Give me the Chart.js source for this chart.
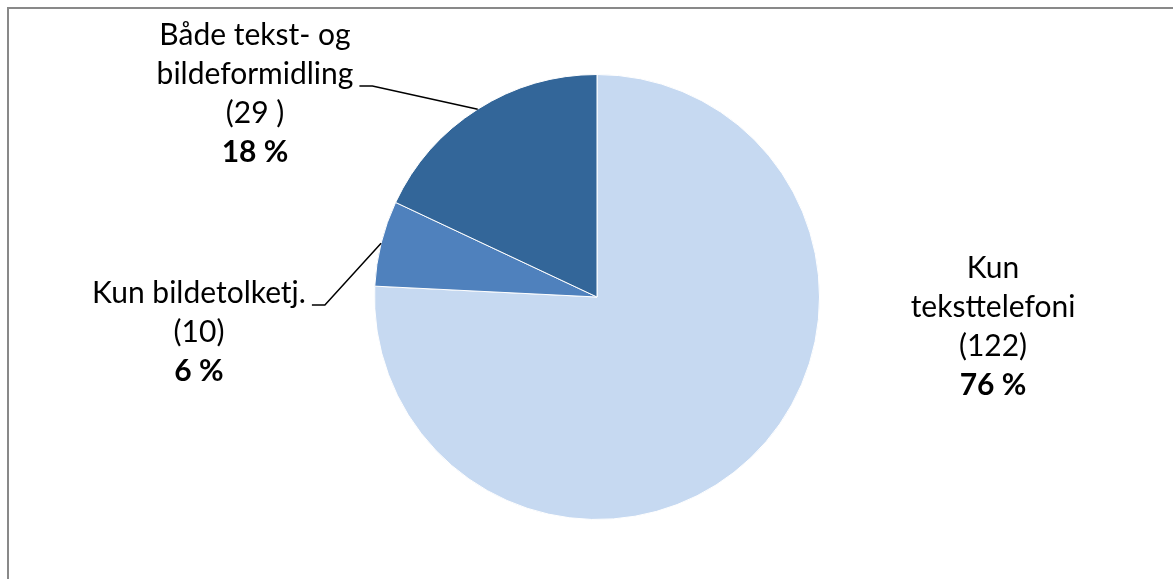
<!DOCTYPE html>
<html>
<head>
<meta charset="utf-8">
<script src="https://cdn.jsdelivr.net/npm/chart.js@4/dist/chart.umd.min.js"></script>
<style>
  html, body { margin: 0; padding: 0; background: #fff; }
  #wrap { width: 1173px; height: 579px; }
</style>
</head>
<body>
<div id="wrap"><canvas id="kakeChart" width="1173" height="579"></canvas></div>
<script>
// Kategorier (linjer i etiketten) og antall
const kategorier = [
  ['Kun', 'teksttelefoni'],
  ['Kun bildetolketj.'],
  ['Både tekst- og', 'bildeformidling']
];
const antall = [122, 10, 29];
const antallTekst = ['(122)', '(10)', '(29 )'];
const farger = ['#C6D9F1', '#4F81BD', '#336699'];

// plassering av etikettene, relativt til sentrum av kaka
const etikettPlass = [
  { dx: 396, dy: -29, leder: false },
  { dx: -398, dy: -4, leder: true },
  { dx: -342, dy: -262, leder: true }
];

const FONT = 'Lato, "Liberation Sans", sans-serif';
const STR = 30;
const LINJE = 39;

const rammePlugin = {
  id: 'ramme',
  beforeDraw(chart) {
    const c = chart.ctx;
    c.save();
    c.fillStyle = '#fff';
    c.fillRect(0, 0, chart.width, chart.height);
    c.strokeStyle = '#898989';
    c.lineWidth = 2;
    c.beginPath();
    c.moveTo(8, chart.height + 5);
    c.lineTo(8, 8);
    c.lineTo(chart.width + 5, 8);
    c.stroke();
    c.restore();
  }
};

const etikettPlugin = {
  id: 'etiketter',
  afterDraw(chart) {
    const c = chart.ctx;
    const meta = chart.getDatasetMeta(0);
    const total = antall.reduce((a, b) => a + b, 0);
    c.save();
    c.fillStyle = '#000';
    c.textAlign = 'center';
    c.textBaseline = 'middle';
    meta.data.forEach((arc, i) => {
      const p = arc.getProps(['x', 'y', 'startAngle', 'endAngle', 'outerRadius'], true);
      const sted = etikettPlass[i];
      const bx = p.x + sted.dx;
      let by = p.y + sted.dy;
      const linjer = kategorier[i].concat([antallTekst[i]]);
      c.font = STR + 'px ' + FONT;
      const forsteBredde = c.measureText(kategorier[i][kategorier[i].length - 1]).width;
      linjer.forEach((t, k) => {
        c.fillText(t, bx, by + k * LINJE);
      });
      c.font = 'bold ' + STR + 'px ' + FONT;
      const pst = Math.round(antall[i] / total * 100) + ' %';
      c.fillText(pst, bx, by + linjer.length * LINJE);

      if (sted.leder) {
        const mid = (p.startAngle + p.endAngle) / 2;
        const ex = p.x + Math.cos(mid) * p.outerRadius;
        const ey = p.y + Math.sin(mid) * p.outerRadius;
        const ly = by + (kategorier[i].length - 1) * LINJE + 12;
        const lx = bx + forsteBredde / 2 + 6;
        c.strokeStyle = '#000';
        c.lineWidth = 1.5;
        c.beginPath();
        c.moveTo(lx, ly);
        c.lineTo(lx + 13, ly);
        c.lineTo(ex, ey);
        c.stroke();
      }
    });
    c.restore();
  }
};

const ctx = document.getElementById('kakeChart').getContext('2d');
new Chart(ctx, {
  type: 'pie',
  data: {
    labels: kategorier.map(l => l.join(' ')),
    datasets: [{
      data: antall,
      backgroundColor: farger,
      borderColor: '#ffffff',
      borderWidth: 1
    }]
  },
  options: {
    responsive: false,
    animation: false,
    layout: { padding: { left: 374, right: 353, top: 74, bottom: 59 } },
    plugins: {
      legend: { display: false },
      tooltip: { enabled: false }
    }
  },
  plugins: [rammePlugin, etikettPlugin]
});
</script>
</body>
</html>
